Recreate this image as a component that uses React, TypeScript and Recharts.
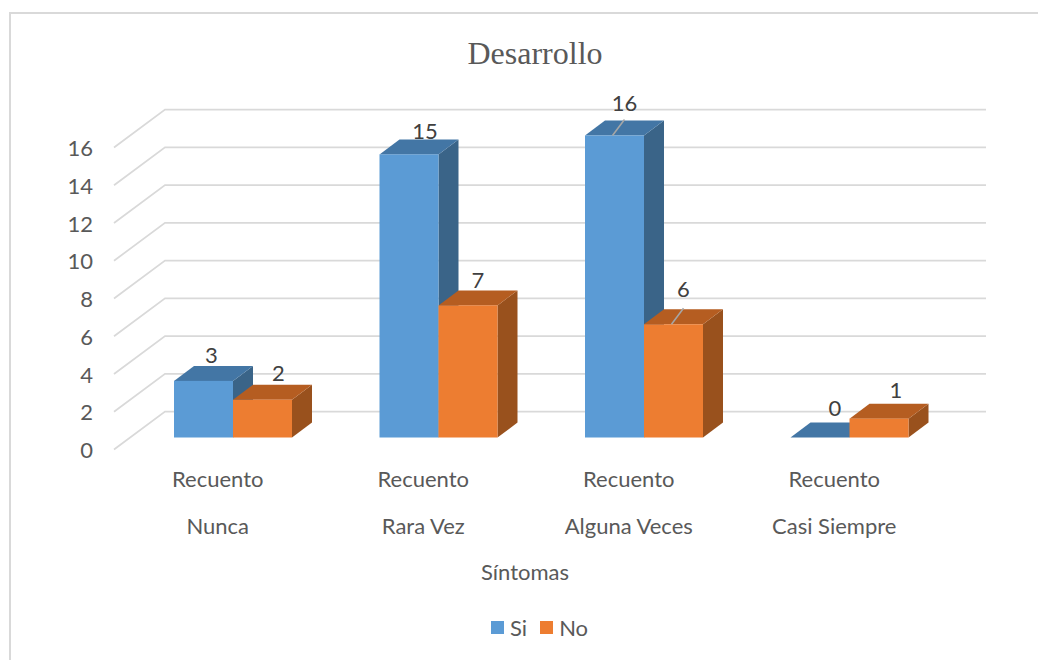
import { BarChart, Bar, XAxis, YAxis, CartesianGrid, LabelList } from 'recharts'

const categories = ['Nunca', 'Rara Vez', 'Alguna Veces', 'Casi Siempre']
const siValues = [3, 15, 16, 0]
const noValues = [2, 7, 6, 1]
const yTicks = [0, 2, 4, 6, 8, 10, 12, 14, 16]

const chartData = categories.map((name, i) => ({
  name,
  si: siValues[i],
  no: noValues[i],
}))

const WIDTH = 1030
const HEIGHT = 652
const FONT = 'Lato, "Open Sans", sans-serif'
const TEXT = '#595959'

// fake 3D: how far the back wall and the bar tops sit from the front plane
const WALL_DX = 51
const WALL_DY = 38
const BAR_LIFT = 12
const DEPTH_X = 20
const DEPTH_Y = 15

function Bar3D(props: any) {
  const { x, y, width, height, fill, top, side } = props
  const ty = y - BAR_LIFT
  const by = y + height - BAR_LIFT
  const r = x + width
  return (
    <g>
      <polygon
        points={`${r},${ty} ${r + DEPTH_X},${ty - DEPTH_Y} ${r + DEPTH_X},${by - DEPTH_Y} ${r},${by}`}
        fill={side}
      />
      <polygon
        points={`${x},${ty} ${x + DEPTH_X},${ty - DEPTH_Y} ${r + DEPTH_X},${ty - DEPTH_Y} ${r},${ty}`}
        fill={top}
      />
      <rect x={x} y={ty} width={width} height={Math.max(height, 0)} fill={fill} />
    </g>
  )
}

// label shifts per bar, the original places them by hand around the top face
const siLabelShift = [
  [8, -26],
  [16, -24],
  [10, -33],
  [15, -30],
]
const noLabelShift = [
  [16, -27],
  [10, -26],
  [10, -36],
  [17, -29],
]
const siLeader = [false, false, true, false]
const noLeader = [false, false, true, false]

function makeLabel(shifts: number[][], leaders: boolean[]) {
  return function BarLabel(props: any) {
    const { x, y, width, value, index } = props
    const [dx, dy] = shifts[index]
    const cx = x + width / 2
    const ty = y - BAR_LIFT
    return (
      <g>
        {leaders[index] && (
          <line x1={cx - 2} y1={ty} x2={cx + 10} y2={ty - 16} stroke="#a6a6a6" strokeWidth={1.5} />
        )}
        <text
          x={cx + dx}
          y={ty + dy}
          textAnchor="middle"
          dominantBaseline="central"
          fontSize={22}
          fontFamily={FONT}
          fill="#404040"
        >
          {value}
        </text>
      </g>
    )
  }
}

function CategoryTick(props: any) {
  const { x, payload } = props
  return (
    <g fontFamily={FONT} fontSize={22} fill={TEXT} textAnchor="middle">
      <text x={x - 15} y={470} dominantBaseline="central">
        Recuento
      </text>
      <text x={x - 15} y={517} dominantBaseline="central">
        {payload.value}
      </text>
    </g>
  )
}

function ValueTick(props: any) {
  const { y, payload } = props
  return (
    <text
      x={85}
      y={y}
      textAnchor="end"
      dominantBaseline="central"
      fontFamily={FONT}
      fontSize={22}
      fill={TEXT}
    >
      {payload.value}
    </text>
  )
}

// gridline that bends back along the floor to the rear wall
function wallLine(props: any) {
  const { y1 } = props
  return (
    <polyline
      key={y1}
      points={`106,${y1} ${106 + WALL_DX},${y1 - WALL_DY} 978,${y1 - WALL_DY}`}
      stroke="#d9d9d9"
      strokeWidth={1.75}
      fill="none"
    />
  )
}

function LegendRow() {
  const items = [
    { name: 'Si', color: '#5b9bd5' },
    { name: 'No', color: '#ed7d31' },
  ]
  return (
    <div
      style={{
        position: 'absolute',
        left: 483,
        top: 606,
        display: 'flex',
        gap: 13,
        fontFamily: FONT,
        fontSize: 22,
        color: TEXT,
      }}
    >
      {items.map((it) => (
        <span key={it.name} style={{ display: 'flex', alignItems: 'center', gap: 6 }}>
          <span style={{ width: 13, height: 13, background: it.color, display: 'inline-block' }} />
          {it.name}
        </span>
      ))}
    </div>
  )
}

export default function App() {
  return (
    <div style={{ position: 'relative', width: WIDTH + 8, height: HEIGHT, background: '#fff', overflow: 'hidden' }}>
      <div
        style={{
          position: 'absolute',
          left: 1,
          top: 4,
          width: WIDTH + 20,
          height: 700,
          borderLeft: '2px solid #d9d9d9',
          borderTop: '2px solid #d9d9d9',
        }}
      />
      <BarChart
        width={WIDTH}
        height={HEIGHT}
        data={chartData}
        margin={{ top: 139.5, right: 86, bottom: 120.5, left: 0 }}
        barGap={0}
        barSize={59}
        style={{ position: 'absolute', left: 0, top: 0 }}
      >
        <CartesianGrid vertical={false} horizontal={wallLine} horizontalValues={yTicks} />
        <XAxis
          dataKey="name"
          axisLine={false}
          tickLine={false}
          tick={<CategoryTick />}
          interval={0}
          height={90}
        />
        <YAxis
          domain={[0, 16]}
          ticks={yTicks}
          axisLine={false}
          tickLine={false}
          tick={<ValueTick />}
          width={122}
        />
        <Bar
          dataKey="si"
          fill="#5b9bd5"
          isAnimationActive={false}
          shape={<Bar3D top="#4376a5" side="#3a6488" />}
        >
          <LabelList dataKey="si" content={makeLabel(siLabelShift, siLeader)} />
        </Bar>
        <Bar
          dataKey="no"
          fill="#ed7d31"
          isAnimationActive={false}
          shape={<Bar3D top="#b55d21" side="#99511d" />}
        >
          <LabelList dataKey="no" content={makeLabel(noLabelShift, noLeader)} />
        </Bar>
      </BarChart>
      <div
        style={{
          position: 'absolute',
          left: 0,
          top: 27,
          width: 1054,
          textAlign: 'center',
          fontFamily: '"Liberation Serif", serif',
          fontSize: 32,
          color: TEXT,
        }}
      >
        Desarrollo
      </div>
      <div
        style={{
          position: 'absolute',
          left: 0,
          top: 550,
          width: 1034,
          textAlign: 'center',
          fontFamily: FONT,
          fontSize: 22,
          color: TEXT,
        }}
      >
        Síntomas
      </div>
      <LegendRow />
    </div>
  )
}
